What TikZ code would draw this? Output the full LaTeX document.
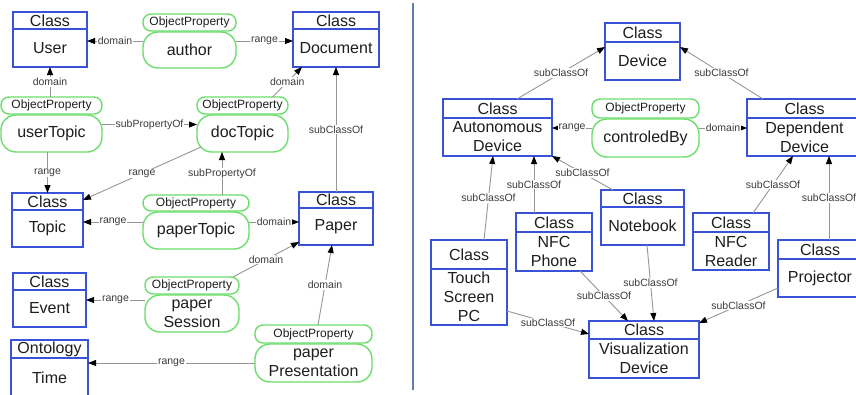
\documentclass[tikz,border=0pt]{standalone}
\usepackage{fontspec}
\newfontfamily\diafont{Liberation Sans}
\usetikzlibrary{arrows.meta}
\definecolor{clsblue}{RGB}{58,82,214}
\definecolor{propgreen}{RGB}{108,222,108}
\definecolor{edgegray}{RGB}{150,150,150}
\definecolor{sepblue}{RGB}{95,125,175}
\definecolor{txt}{RGB}{30,30,30}
\definecolor{lbl}{RGB}{60,60,60}
\tikzset{
 clsnode/.style={draw=clsblue, line width=1.2pt, rectangle, inner sep=0pt, outer sep=0pt},
 clsline/.style={draw=clsblue, line width=1.2pt},
 clshead/.style={font=\diafont\fontsize{16}{18}\selectfont, text=txt, inner sep=0pt},
 clsbody/.style={font=\diafont\fontsize{16}{19}\selectfont, text=txt, align=center, inner sep=0pt},
 prophead/.style={draw=propgreen, line width=1.4pt, rounded corners=8pt, inner sep=0pt, outer sep=0pt, font=\diafont\fontsize{12}{14}\selectfont, text=txt},
 propbody/.style={draw=propgreen, line width=1.4pt, rounded corners=15pt, inner sep=0pt, outer sep=0pt, font=\diafont\fontsize{16}{19}\selectfont, text=txt, align=center},
 grp/.style={inner sep=0pt, outer sep=0pt},
 edge/.style={draw=edgegray, line width=0.9pt, -{Triangle[length=8pt,width=6pt,color=black]}},
 elabel/.style={font=\diafont\fontsize{10.5}{12}\selectfont, text=lbl, fill=white, inner sep=1pt},
}
% class box: name, x1, y1, x2, y2, ydiv, header, body
\newcommand\clsbox[8]{%
 \pgfmathsetmacro\cbw{#4-#2}%
 \pgfmathsetmacro\cbh{#5-#3}%
 \pgfmathsetmacro\cbx{(#2+#4)/2}%
 \pgfmathsetmacro\cby{(#3+#5)/2}%
 \pgfmathsetmacro\cbhy{(#3+#6)/2}%
 \pgfmathsetmacro\cbby{(#6+#5)/2}%
 \node[clsnode, minimum width=\cbw pt, minimum height=\cbh pt] (#1) at (\cbx,\cby) {};
 \draw[clsline] (#2,#6) -- (#4,#6);
 \node[clshead] (#1-h) at (\cbx,\cbhy) {#7};
 \node[clsbody] (#1-b) at (\cbx,\cbby) {#8};
}
% property: name, x1, x2, yh1, yh2, yb2, text
\newcommand\propbox[7]{%
 \pgfmathsetmacro\pbw{#3-#2}%
 \pgfmathsetmacro\pbx{(#2+#3)/2}%
 \pgfmathsetmacro\pbhh{#5-#4}%
 \pgfmathsetmacro\pbhy{(#4+#5)/2}%
 \pgfmathsetmacro\pbbh{#6-#5-1}%
 \pgfmathsetmacro\pbby{(#5+1+#6)/2}%
 \pgfmathsetmacro\pbgh{#6-#4}%
 \pgfmathsetmacro\pbgy{(#4+#6)/2}%
 \node[prophead, minimum width=\pbw pt, minimum height=\pbhh pt] (#1-h) at (\pbx,\pbhy) {ObjectProperty};
 \node[propbody, minimum width=\pbw pt, minimum height=\pbbh pt] (#1-b) at (\pbx,\pbby) {#7};
 \node[grp, minimum width=\pbw pt, minimum height=\pbgh pt] (#1) at (\pbx,\pbgy) {};
}
\begin{document}
\begin{tikzpicture}[x=1pt,y=-1pt]
\useasboundingbox (0,0) rectangle (856,394);
\clip (0,0) rectangle (856,394);
\fill[white] (0,0) rectangle (856,394);

% separator
\draw[sepblue, line width=1.3pt] (413,3) coordinate (sepA) -- (413,390) coordinate (sepB);

% ---------- left panel ----------
\clsbox{user}{13}{12}{87}{67}{29}{Class}{User}
\clsbox{document}{293}{12}{379}{67}{29}{Class}{Document}
\clsbox{topic}{12}{193}{83}{247}{210}{Class}{Topic}
\clsbox{paper}{299}{192}{373}{245}{208}{Class}{Paper}
\clsbox{event}{13}{273}{86}{327}{290}{Class}{Event}
\clsbox{time}{11}{340}{88}{398}{358}{Ontology}{Time}

\propbox{author}{143}{236}{14}{31}{68}{author}
\propbox{usertopic}{1}{102}{97}{114}{152}{userTopic}
\propbox{doctopic}{197}{288}{97}{114}{152}{docTopic}
\propbox{papertopic}{143}{249}{195}{211}{249}{paperTopic}
\propbox{papersession}{145}{239}{277}{294}{332}{paper\\Session}
\propbox{paperpres}{255}{372}{325}{343}{382}{paper\\Presentation}

\draw[edge] (author.west) -- node[elabel]{domain} (author.west -| user.east);
\draw[edge] (author.east) -- node[elabel]{range} (author.east -| document.west);
\draw[edge] (usertopic-h.north -| user.south) -- node[elabel]{domain} (user.south);
\draw[edge] ([xshift=30pt]doctopic-h.north) -- node[elabel]{domain} ([xshift=-34pt]document.south);
\draw[edge] (usertopic.east) -- node[elabel]{subPropertyOf} (usertopic.east -| doctopic.west);
\draw[edge] (usertopic-b.south -| topic.north) -- node[elabel]{range} (topic.north);
\draw[edge] ([xshift=4pt,yshift=5pt]doctopic-b.south west) -- node[elabel]{range} ([yshift=-7pt]topic.north east);
\draw[edge] ([xshift=26pt]papertopic-h.north) -- node[elabel]{subPropertyOf} ([xshift=26pt]papertopic-h.north |- doctopic-b.south);
\draw[edge] (paper.north) -- node[elabel]{subClassOf} (paper.north |- document.south);
\draw[edge] (papertopic.west) -- node[elabel]{range} (papertopic.west -| topic.east);
\draw[edge] (papertopic.east) -- node[elabel]{domain} (papertopic.east -| paper.west);
\draw[edge] ([xshift=-6pt]papersession-h.north east) -- node[elabel]{domain} ([yshift=3pt]paper.south west);
\draw[edge] (event.east -| papersession.west) -- node[elabel]{range} (event.east);
\draw[edge] ([xshift=4.5pt]paperpres-h.north) -- node[elabel]{domain} ([xshift=-4pt]paper.south);
\draw[edge] (paperpres-b.west) -- node[elabel]{range} (paperpres-b.west -| time.east);

% ---------- right panel ----------
\clsbox{device}{605}{23}{680}{80}{42}{Class}{Device}
\clsbox{autonomous}{443}{99}{552}{156}{118}{Class}{Autonomous\\Device}
\clsbox{dependent}{747}{99}{862}{156}{118}{Class}{Dependent\\Device}
\clsbox{notebook}{601}{190}{684}{245}{207}{Class}{Notebook}
\clsbox{nfcphone}{516}{213}{592}{271}{232}{Class}{NFC\\Phone}
\clsbox{nfcreader}{693}{213}{769}{270}{232}{Class}{NFC\\Reader}
\clsbox{projector}{778}{240}{862}{297}{259}{Class}{Projector}
\clsbox{touchpc}{431}{240}{507}{325}{269}{Class}{Touch\\Screen\\PC}
\clsbox{visdev}{589}{321}{699}{378}{339}{Class}{Visualization\\Device}

\propbox{controledby}{592}{699}{99}{118}{157}{controledBy}

\draw[edge] ([xshift=19.5pt]autonomous.north) -- node[elabel]{subClassOf} ([yshift=4.5pt]device.west);
\draw[edge] ([xshift=-41.5pt]dependent.north) -- node[elabel]{subClassOf} ([yshift=4.5pt]device.east);
\draw[edge] (controledby.west) -- node[elabel]{range} (controledby.west -| autonomous.east);
\draw[edge] (controledby.east) -- node[elabel]{domain} (controledby.east -| dependent.west);
\draw[edge] ([xshift=15pt]touchpc.north) -- node[elabel]{subClassOf} ([xshift=-4.5pt]autonomous.south);
\draw[edge] ([xshift=-20pt]nfcphone.north) -- node[elabel]{subClassOf} ([xshift=-20pt]nfcphone.north |- autonomous.south);
\draw[edge] ([xshift=-29.5pt]notebook.north) -- node[elabel]{subClassOf} (autonomous.south east);
\draw[edge] ([xshift=22pt]nfcreader.north) -- node[elabel]{subClassOf} ([xshift=-11.5pt]dependent.south);
\draw[edge] ([xshift=9pt]projector.north) -- node[elabel]{subClassOf} ([xshift=9pt]projector.north |- dependent.south);
\draw[edge] ([yshift=-28.5pt]touchpc.east) -- node[elabel]{subClassOf} ([yshift=15.5pt]visdev.west);
\draw[edge] ([xshift=26pt]nfcphone.south) -- node[elabel]{subClassOf} ([xshift=-16pt]visdev.north);
\draw[edge] ([xshift=4.5pt]notebook.south) -- node[elabel]{subClassOf} ([xshift=10pt]visdev.north);
\draw[edge] ([yshift=-19.5pt]projector.west) -- node[elabel]{subClassOf} ([yshift=-2pt]visdev.north east);
\end{tikzpicture}
\end{document}
